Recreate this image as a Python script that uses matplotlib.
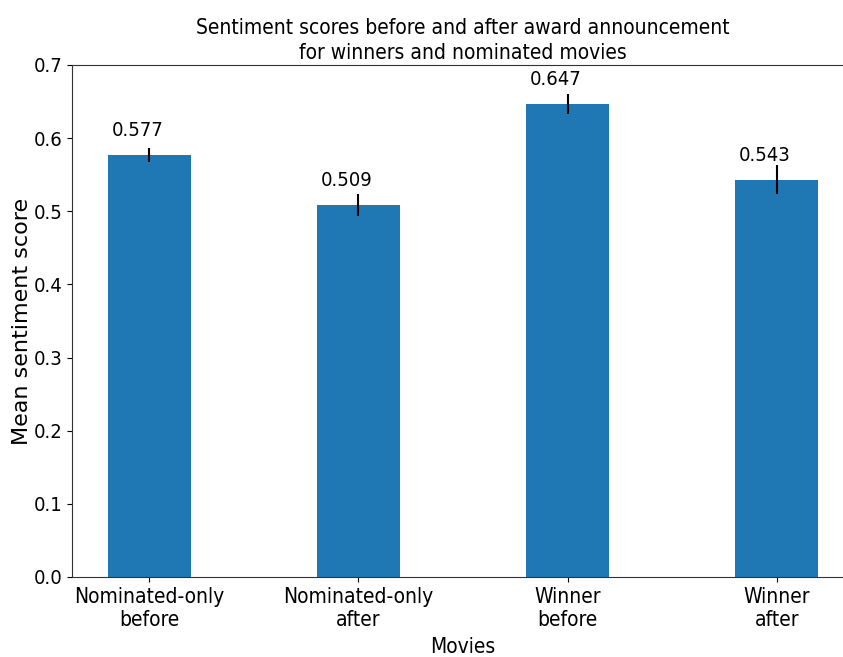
import matplotlib
matplotlib.use("Agg")
import matplotlib.pyplot as plt
import numpy as np

# mean sentiment per group, with the spread drawn as error bars
groups = ["Nominated-only\nbefore", "Nominated-only\nafter", "Winner\nbefore", "Winner\nafter"]
mean_scores = [0.577, 0.509, 0.647, 0.543]
score_errors = [0.009, 0.015, 0.014, 0.020]

narrow = dict(family="DejaVu Sans", stretch="condensed")

fig = plt.figure(figsize=(8.43, 6.57), dpi=100)
ax = fig.add_axes([72 / 843, 1 - 577 / 657, (854 - 72) / 843, (577 - 65) / 657])

x = np.arange(len(groups))
ax.bar(x, mean_scores, width=0.4, color="#1f77b4", yerr=score_errors,
       error_kw=dict(ecolor="black", elinewidth=1.5, capsize=0))

for i, v in enumerate(mean_scores):
    ax.text(i - 0.058, v + 0.02, f"{v:.3f}", ha="center", va="bottom", fontsize=14.5, **narrow)

ax.set_ylim(0, 0.7)
yticks = np.arange(0, 0.71, 0.1)
ax.set_yticks(yticks)
ax.set_yticklabels([f"{t:.1f}" for t in yticks], fontsize=14.5, **narrow)
ax.set_xticks(x)
ax.set_xticklabels(groups, fontsize=15, **narrow)

ax.set_xlabel("Movies", fontsize=15, labelpad=5, **narrow)
ax.set_ylabel("Mean sentiment score", fontsize=16, labelpad=1, family="DejaVu Sans")
ax.set_title("Sentiment scores before and after award announcement\nfor winners and nominated movies",
             fontsize=15, pad=0, y=1.012, linespacing=1.3, **narrow)

ax.spines["right"].set_visible(False)
for side in ("left", "bottom", "top"):
    ax.spines[side].set_color("#333333")

fig.savefig("out.png", dpi=100)
